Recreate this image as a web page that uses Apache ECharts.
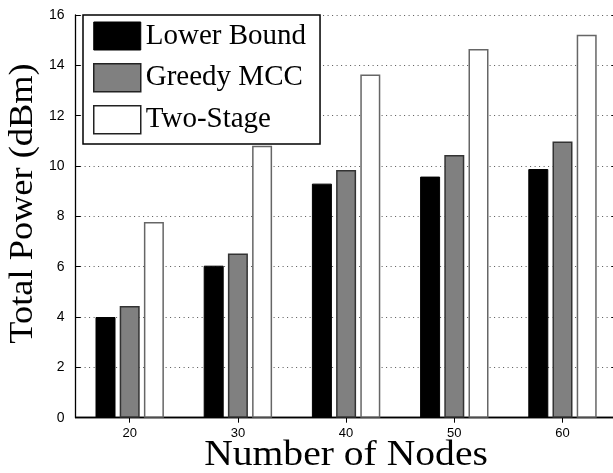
<!DOCTYPE html>
<html>
<head>
<meta charset="utf-8">
<script src="https://cdn.jsdelivr.net/npm/echarts@6/dist/echarts.min.js"></script>
<style>
html,body{margin:0;padding:0;background:#fff;}
#c{width:613px;height:473px;}
</style>
</head>
<body>
<div id="c"></div>
<script>
var categories = ['20', '30', '40', '50', '60'];
var lowerBound = [4.0, 6.04, 9.3, 9.58, 9.88];
var greedyMCC = [4.44, 6.52, 9.84, 10.44, 10.97];
var twoStage = [7.78, 10.81, 13.64, 14.65, 15.22];
var seriesNames = ['Lower Bound', 'Greedy MCC', 'Two-Stage'];
var xTitle = 'Number of Nodes';
var yTitle = 'Total Power (dBm)';

var chart = echarts.init(document.getElementById('c'), null, {renderer: 'canvas'});
var axisColor = '#000';
var option = {
  animation: false,
  backgroundColor: '#fff',
  grid: {left: 75.6, top: 15, width: 541, height: 402.7, containLabel: false, outerBoundsMode: 'none'},
  legend: {
    orient: 'vertical',
    left: 83,
    top: 15,
    padding: [6.5, 14, 9.5, 10],
    itemGap: 12.5,
    itemWidth: 47,
    itemHeight: 28,
    icon: 'rect',
    backgroundColor: '#fff',
    borderColor: '#000',
    borderWidth: 1.5,
    textStyle: {fontFamily: 'Liberation Serif', fontSize: 29, color: '#000', lineHeight: 28},
    data: [
      {name: seriesNames[0], itemStyle: {color: '#000', borderColor: '#000', borderWidth: 1}},
      {name: seriesNames[1], itemStyle: {color: '#808080', borderColor: '#222', borderWidth: 1.5}},
      {name: seriesNames[2], itemStyle: {color: '#fff', borderColor: '#222', borderWidth: 1.5}}
    ]
  },
  xAxis: [
    {
      type: 'category', data: categories, position: 'bottom',
      axisLine: {show: true, lineStyle: {color: axisColor, width: 1.3}},
      axisTick: {show: true, inside: true, length: 5, alignWithLabel: true, lineStyle: {color: axisColor}},
      axisLabel: {fontFamily: 'Liberation Sans', fontSize: 13, color: '#000', margin: 9},
      splitLine: {show: false}
    },
    {
      type: 'category', data: categories, position: 'top',
      axisLine: {show: true, lineStyle: {color: axisColor, width: 1.3}},
      axisTick: {show: true, inside: true, length: 5, alignWithLabel: true, lineStyle: {color: axisColor}},
      axisLabel: {show: false},
      splitLine: {show: false}
    }
  ],
  yAxis: [
    {
      type: 'value', min: 0, max: 16, interval: 2, position: 'left',
      axisLine: {show: true, lineStyle: {color: axisColor, width: 1.3}},
      axisTick: {show: true, inside: true, length: 5, lineStyle: {color: axisColor}},
      axisLabel: {fontFamily: 'Liberation Sans', fontSize: 14, color: '#000', margin: 11},
      splitLine: {show: true, lineStyle: {color: '#555', width: 1, type: [1, 3.5]}}
    },
    {
      type: 'value', min: 0, max: 16, interval: 2, position: 'right',
      axisLine: {show: true, lineStyle: {color: axisColor, width: 1.3}},
      axisTick: {show: true, inside: true, length: 5, lineStyle: {color: axisColor}},
      axisLabel: {show: false},
      splitLine: {show: false}
    }
  ],
  series: [
    {name: seriesNames[0], type: 'bar', data: lowerBound, barWidth: 20, barGap: '21%',
     itemStyle: {color: '#000', borderColor: '#000', borderWidth: 1}},
    {name: seriesNames[1], type: 'bar', data: greedyMCC, barWidth: 20, barGap: '21%',
     itemStyle: {color: '#808080', borderColor: '#333', borderWidth: 1.5}},
    {name: seriesNames[2], type: 'bar', data: twoStage, barWidth: 20, barGap: '21%',
     itemStyle: {color: '#fff', borderColor: '#666', borderWidth: 1.5}}
  ],
  graphic: [
    {type: 'text', x: 346, y: 456, scaleX: 1.1,
     style: {text: xTitle, fontFamily: 'Liberation Serif', fontSize: 36, fill: '#000', align: 'center', verticalAlign: 'middle'}},
    {type: 'text', x: 23, y: 203.5, rotation: Math.PI / 2, scaleX: 1.07,
     style: {text: yTitle, fontFamily: 'Liberation Serif', fontSize: 34, fill: '#000', align: 'center', verticalAlign: 'middle'}}
  ]
};
chart.setOption(option);
</script>
</body>
</html>
